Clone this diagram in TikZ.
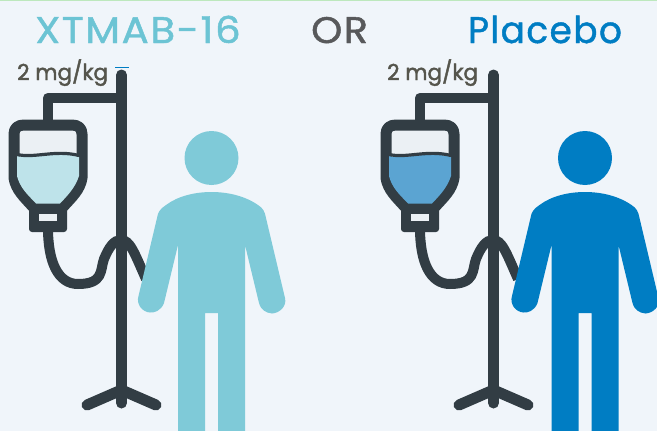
\documentclass[tikz,border=0pt]{standalone}
\usepackage{fontspec}
\setmainfont{Poppins}
\definecolor{bgc}{HTML}{F0F5FA}
\definecolor{topline}{HTML}{BDE8BD}
\definecolor{dark}{HTML}{323D44}
\definecolor{tealt}{HTML}{6CC4D4}
\definecolor{tealp}{HTML}{7FCAD8}
\definecolor{bluep}{HTML}{007DC3}
\definecolor{liqa}{HTML}{BEE3EA}
\definecolor{liqb}{HTML}{5BA4D2}
\definecolor{grayt}{HTML}{58595B}
\definecolor{doset}{HTML}{55554C}
\definecolor{upper}{HTML}{EBF0F4}
\tikzset{
  stand/.style={draw=dark,line width=11pt,line cap=round,line join=round},
  tube/.style={draw=dark,line width=10pt,line cap=butt},
  title/.style={inner sep=0pt,anchor=base west,font=\fontsize{37}{37}\selectfont\addfontfeature{LetterSpace=4,FakeBold=1.2}},
  dose/.style={inner sep=0pt,anchor=base west,text=doset,font=\fontsize{22}{22}\selectfont\addfontfeature{FakeBold=2}},
  pics/iv/.style={code={
    % tube behind the person
    \draw[tube] (48,228) .. controls (48,262) and (58,284) .. (78,284)
       .. controls (104,284) and (100,270) .. (104,259)
       .. controls (109,247) and (114,240) .. (121,240)
       .. controls (130,240) and (134,252) .. (146,279);
    % bag outline
    \fill[upper] (19,130) rectangle (77,156);
    \draw[stand] (24,125) -- (72,125) .. controls (78,125) and (82,128) .. (82,134)
       -- (82,178) .. controls (80,190) and (72,197) .. (62,208) -- (34,208)
       .. controls (24,197) and (16,190) .. (14,178) -- (14,134)
       .. controls (14,128) and (18,125) .. (24,125) -- cycle;
    % bag contents
    \fill[#1] (17,156) .. controls (35,160) and (55,150) .. (79,157) -- (79,176)
       .. controls (75,188) and (68,195) .. (60,203.5) -- (36,203.5)
       .. controls (28,195) and (20,188) .. (17,176) -- cycle;
    \draw[dark,line width=3.2pt] (17,154.5) .. controls (35,158.5) and (55,149.5) .. (79,155.5);
    % drip chamber
    \fill[dark,rounded corners=3pt] (29,205) rectangle (67,232);
    \fill[upper] (39,214) rectangle (57,221);
    % pole, arm, base
    \draw[stand] (121.5,75) -- (121.5,403);
    \draw[draw=dark,line width=10.5pt,line join=round] (121.5,98) -- (48,98) -- (48,122);
    \draw[stand] (87,405) -- (121.5,390) -- (156,405);
  }},
  pics/person/.style={code={
    \fill[#1] (211.5,158) circle (27);
    \fill[#1] (178,431) -- (178,245) -- (164,303)
      .. controls (161,311) and (154,313) .. (150,312.5)
      .. controls (142,312) and (136,304) .. (138.5,296)
      -- (157,218) .. controls (158,212) and (160,209) .. (166,205)
      .. controls (178,196) and (195,192) .. (211.5,192)
      .. controls (228,192) and (245,196) .. (258,205)
      .. controls (263,208) and (265,212) .. (266,218)
      -- (285,298) .. controls (287,306) and (280,313) .. (272,313.5)
      .. controls (266,313) and (261,310) .. (259,303)
      -- (245,245) -- (245,431) -- (218,431) -- (218,313) -- (205,313) -- (205,431) -- cycle;
  }}
}
\begin{document}
\begin{tikzpicture}[x=1pt,y=-1pt]
\useasboundingbox (0,0) rectangle (657,431);
\fill[bgc] (0,0) rectangle (657,431);
\fill[topline] (0,0) rectangle (657,1);
\node[title,text=tealt] (drug) at (35,43) {\scalebox{1.09}[1]{XTMAB-16}};
\node[title,text=grayt] (or) at (311,43) {\scalebox{1.07}[1]{OR}};
\node[title,text=bluep] (placebo) at (468,43) {\scalebox{0.97}[1]{Placebo}};
\node[dose] (doseA) at (17,80) {\scalebox{0.98}[1]{2 mg/kg}};
\node[dose] (doseB) at (387,80) {\scalebox{0.98}[1]{2 mg/kg}};
\fill[bluep] (115,67) rectangle (129,67.8);
\pic at (0,0) {iv=liqa};
\pic at (372,0) {iv=liqb};
\pic at (0,0) {person=tealp};
\pic at (373.5,0) {person=bluep};
\end{tikzpicture}
\end{document}
